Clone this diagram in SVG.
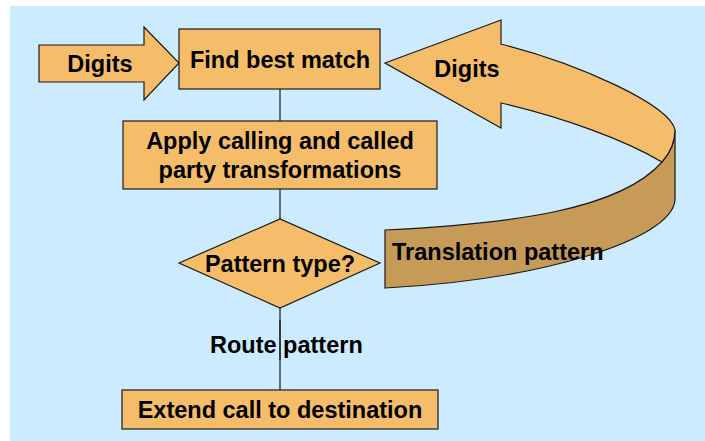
<svg xmlns="http://www.w3.org/2000/svg" width="705" height="441" viewBox="0 0 705 441">
<style>
.shape{fill:#F5BD69;stroke:#1a1a1a;stroke-width:1.2;stroke-linejoin:miter}
.dark{fill:#C69A57;stroke:#1a1a1a;stroke-width:1.2}
.lbl{font-family:"Liberation Sans",Arial,sans-serif;font-weight:bold;font-size:23.5px;fill:#000}
.mid{text-anchor:middle}
.conn{stroke:#1a1a1a;stroke-width:1.2;fill:none}
</style>
<rect x="10" y="6" width="695" height="435" fill="#CCEBFF"/>
<g id="connectors">
<line class="conn" x1="280" y1="89" x2="280" y2="121"/>
<line class="conn" x1="280" y1="189" x2="280" y2="219"/>
<line class="conn" x1="280" y1="308" x2="280" y2="390"/>
</g>
<g id="route-label">
<text class="lbl" x="210" y="353">Route pattern</text>
<line class="conn" x1="280" y1="320" x2="280" y2="360"/>
</g>
<g id="digits-in">
<path class="shape" d="M39,45 L144,45 L144,27 L179,63 L144,100 L144,82 L39,82 Z"/>
<text class="lbl mid" x="100" y="72">Digits</text>
</g>
<g id="find-best-match">
<rect class="shape" x="179" y="29" width="201" height="60"/>
<text class="lbl mid" x="280" y="68">Find best match</text>
</g>
<g id="apply-transformations">
<rect class="shape" x="123" y="121" width="314" height="68"/>
<text class="lbl mid" x="280" y="149">Apply calling and called</text>
<text class="lbl mid" x="280" y="178">party transformations</text>
</g>
<g id="pattern-type">
<polygon class="shape" points="179,263 280,219 380,263 280,308"/>
<text class="lbl mid" x="280" y="272">Pattern type?</text>
</g>
<g id="extend-call">
<rect class="shape" x="122" y="390" width="316" height="39"/>
<text class="lbl mid" x="280" y="418">Extend call to destination</text>
</g>
<g id="translation-loop">
<path class="dark" d="M385,230 C510,224 620,210 662,162 C670,153 675,142 675,130 L675,200 C672,240 540,280 385,288 Z"/>
<path class="shape" d="M385,63 L501,20 L501,44 C580,64 670,105 675,130 C675,142 670,153 662,162 C625,140 565,118 501,103 L501,128 Z"/>
<text class="lbl mid" x="467" y="77">Digits</text>
<text class="lbl" x="392" y="260">Translation pattern</text>
</g>
</svg>
